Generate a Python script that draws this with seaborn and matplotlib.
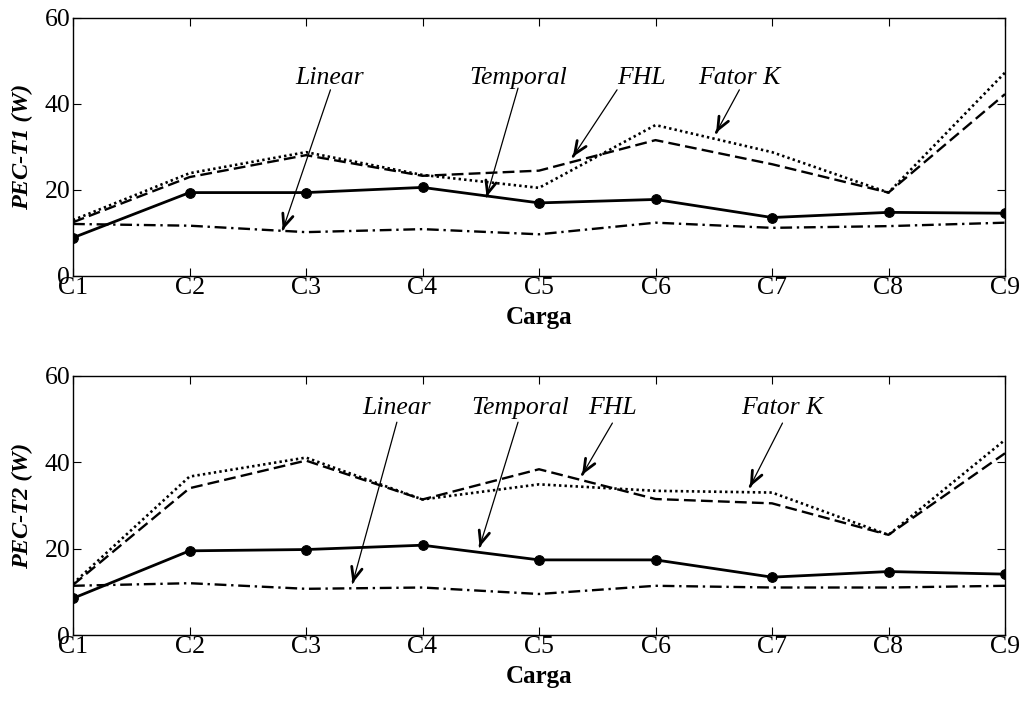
import matplotlib
matplotlib.use("Agg")
import matplotlib.pyplot as plt
import seaborn as sns
import pandas as pd
import numpy as np

# ---------------- data ----------------
cargas = ["C1", "C2", "C3", "C4", "C5", "C6", "C7", "C8", "C9"]

# PEC-T1 (W)
t1_temporal = [8.9, 19.4, 19.4, 20.6, 17.0, 17.8, 13.6, 14.8, 14.6]
t1_linear   = [12.1, 11.7, 10.2, 10.9, 9.7, 12.4, 11.2, 11.6, 12.4]
t1_fhl      = [12.5, 23.0, 28.1, 23.3, 24.5, 31.6, 26.0, 19.4, 42.3]
t1_fatork   = [13.0, 23.9, 28.8, 23.5, 20.5, 35.1, 28.8, 19.4, 47.3]

# PEC-T2 (W)
t2_temporal = [8.5, 19.5, 19.8, 20.8, 17.4, 17.4, 13.4, 14.7, 14.1]
t2_linear   = [11.4, 12.0, 10.7, 11.0, 9.5, 11.4, 11.0, 11.0, 11.4]
t2_fhl      = [11.6, 34.0, 40.4, 31.4, 38.4, 31.5, 30.5, 23.2, 42.1]
t2_fatork   = [11.9, 36.7, 41.1, 31.4, 34.9, 33.4, 33.0, 23.2, 45.2]

y_ticks = [0, 20, 40, 60]
y_labels = ["PEC-T1 (W)", "PEC-T2 (W)"]
x_label = "Carga"

# annotations: (label, text x, text y, tail x, tail y, head x, head y)
ann_t1 = [
    ("Linear",   2.20, 46.0, 2.21, 43.3, 1.80, 10.7),
    ("Temporal", 3.82, 46.0, 3.82, 43.7, 3.55, 18.4),
    ("FHL",      4.88, 46.0, 4.67, 43.3, 4.29, 27.7),
    ("Fator K",  5.72, 46.0, 5.72, 43.3, 5.52, 33.3),
]
ann_t2 = [
    ("Linear",   2.78, 52.6, 2.78, 49.3, 2.40, 12.0),
    ("Temporal", 3.84, 52.6, 3.82, 49.3, 3.49, 20.4),
    ("FHL",      4.63, 52.6, 4.63, 49.1, 4.37, 37.1),
    ("Fator K",  6.09, 52.6, 6.09, 49.1, 5.81, 34.3),
]

# ---------------- style ----------------
sns.set_theme(style="ticks")
plt.rcParams["font.family"] = ["Liberation Serif", "DejaVu Serif"]
plt.rcParams["text.color"] = "black"
plt.rcParams["axes.labelcolor"] = "black"
plt.rcParams["xtick.color"] = "black"
plt.rcParams["ytick.color"] = "black"
plt.rcParams["axes.edgecolor"] = "black"

fig = plt.figure(figsize=(10.29, 7.01), dpi=100)
ax1 = fig.add_axes([73 / 1029, 1 - 276 / 701, 932 / 1029, 258 / 701])
ax2 = fig.add_axes([73 / 1029, 1 - 635 / 701, 932 / 1029, 259 / 701])

xpos = np.arange(len(cargas))


def draw(ax, temporal, linear, fhl, fatork, ylabel, anns):
    lw = 1.7
    sns.lineplot(x=xpos, y=fhl, ax=ax, color="black", lw=lw,
                 linestyle=(0, (5, 2.2)))
    sns.lineplot(x=xpos, y=fatork, ax=ax, color="black", lw=lw + 0.2,
                 linestyle=(0, (0.9, 1.2)))
    sns.lineplot(x=xpos, y=linear, ax=ax, color="black", lw=lw,
                 linestyle=(0, (5, 2, 1, 2)))
    sns.lineplot(x=xpos, y=temporal, ax=ax, color="black", lw=2.0,
                 marker="o", markersize=7, markeredgecolor="black",
                 markerfacecolor="black")
    ax.set_xlim(0, len(cargas) - 1)
    ax.set_ylim(0, 60)
    ax.set_xticks(xpos)
    ax.set_xticklabels(cargas)
    ax.set_yticks(y_ticks)
    ax.set_yticklabels([str(v) for v in y_ticks])
    ax.tick_params(direction="in", length=6, width=0.8, top=True, right=True,
                   labelsize=18.5, pad=1, colors="black")
    ax.tick_params(axis="y", pad=2)
    for s in ax.spines.values():
        s.set_linewidth(1.0)
        s.set_color("black")
    ax.set_xlabel(x_label, fontsize=18, fontweight="bold", labelpad=5)
    ax.set_ylabel(ylabel, fontsize=17.5, fontweight="bold", style="italic",
                  labelpad=8)
    for lab, tx, ty, ax0, ay0, hx, hy in anns:
        ax.text(tx, ty, lab, fontsize=18.5, style="italic", ha="center",
                va="center")
        # thin shaft
        ax.annotate("", xy=(hx, hy), xytext=(ax0, ay0),
                    arrowprops=dict(arrowstyle="-", lw=0.9, color="black",
                                    shrinkA=0, shrinkB=0))
        # bold open arrowhead
        fx = hx + (ax0 - hx) * 0.01
        fy = hy + (ay0 - hy) * 0.01
        ax.annotate("", xy=(hx, hy), xytext=(fx, fy),
                    arrowprops=dict(arrowstyle="->,head_length=0.75,head_width=0.32",
                                    lw=2.0, color="black",
                                    shrinkA=0, shrinkB=0))


draw(ax1, t1_temporal, t1_linear, t1_fhl, t1_fatork, y_labels[0], ann_t1)
draw(ax2, t2_temporal, t2_linear, t2_fhl, t2_fatork, y_labels[1], ann_t2)

fig.savefig("out.png", dpi=100, facecolor="white")
